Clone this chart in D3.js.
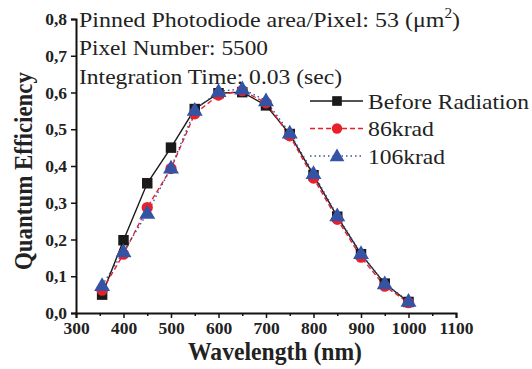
<!DOCTYPE html>
<html>
<head>
<meta charset="utf-8">
<script src="https://cdn.jsdelivr.net/npm/d3@7"></script>
<style>
  body { margin: 0; background: #fff; }
  svg text { font-family: "Liberation Serif", "Times New Roman", Tinos; }
</style>
</head>
<body>
<div id="chart"></div>
<script>
const wavelengths = [355, 400, 450, 500, 550, 600, 650, 700, 750, 800, 850, 900, 950, 1000]
const beforeRadiation = [0.05, 0.198, 0.353, 0.45, 0.555, 0.598, 0.601, 0.565, 0.487, 0.375, 0.262, 0.16, 0.08, 0.03]
const krad86 = [0.062, 0.16, 0.287, 0.393, 0.542, 0.593, 0.605, 0.572, 0.482, 0.367, 0.255, 0.152, 0.073, 0.028]
const krad106 = [0.075, 0.167, 0.272, 0.395, 0.552, 0.603, 0.61, 0.578, 0.49, 0.38, 0.265, 0.162, 0.08, 0.032]
const xTicks = [300, 400, 500, 600, 700, 800, 900, 1000, 1100]
const yTicks = [0, 0.1, 0.2, 0.3, 0.4, 0.5, 0.6, 0.7, 0.8]
const infoLines = ['Pinned Photodiode area/Pixel: 53 (\u03BCm', 'Pixel Number: 5500', 'Integration Time: 0.03 (sec)']
const infoWidths = [381, 189, 263]

const series = [
  { name: 'Before Radiation', values: beforeRadiation, color: '#1a1a1a', dash: null, shape: d3.symbolSquare, size: 110, legendWidth: 161 },
  { name: '86krad', values: krad86, color: '#e8202a', dash: '5,3', shape: d3.symbolCircle, size: 100, legendWidth: 66 },
  { name: '106krad', values: krad106, color: '#3553a5', dash: '1.5,3', shape: d3.symbolTriangle, size: 110, legendWidth: 77 },
]

const width = 532, height = 369
const marginLeft = 76, marginTop = 19
const plotWidth = 380, plotHeight = 294
const textColor = '#222'
const serif = '"Liberation Serif", "Times New Roman", Tinos'

const svg = d3.select('#chart').append('svg')
  .attr('width', width)
  .attr('height', height)

const x = d3.scaleLinear().domain([300, 1100]).range([marginLeft, marginLeft + plotWidth])
const y = d3.scaleLinear().domain([0, 0.8]).range([marginTop + plotHeight, marginTop])

// axes
const xAxis = svg.append('g')
  .attr('transform', `translate(0,${marginTop + plotHeight})`)
  .call(d3.axisBottom(x).tickValues(xTicks).tickSize(5).tickPadding(4).tickFormat(d3.format('d')))
xAxis.append('g')
  .call(d3.axisBottom(x).tickValues(d3.range(350, 1100, 100)).tickSize(3).tickFormat(''))
  .select('.domain').remove()

const yAxis = svg.append('g')
  .attr('transform', `translate(${marginLeft},0)`)
  .call(d3.axisLeft(y).tickValues(yTicks).tickSize(5).tickPadding(4).tickFormat(d => d3.format('.1f')(d).replace('.', ',')))

svg.selectAll('g').attr('font-family', serif)
svg.selectAll('.domain').attr('stroke', '#111').attr('stroke-width', 2)
svg.selectAll('.tick line').attr('stroke', '#111').attr('stroke-width', 1.5)
svg.selectAll('.tick text')
  .attr('fill', textColor)
  .style('font-family', serif)
  .style('font-weight', 'bold')
  .style('font-size', '17.5px')

// axis titles
svg.append('text')
  .attr('x', 188).attr('y', 360)
  .attr('textLength', 174).attr('lengthAdjust', 'spacingAndGlyphs')
  .style('font-family', serif)
  .style('font-weight', 'bold').style('font-size', '25px')
  .attr('fill', textColor)
  .text('Wavelength (nm)')

svg.append('text')
  .attr('transform', `translate(32,270) rotate(-90)`)
  .attr('textLength', 198).attr('lengthAdjust', 'spacingAndGlyphs')
  .style('font-family', serif)
  .style('font-weight', 'bold').style('font-size', '25px')
  .attr('fill', textColor)
  .text('Quantum Efficiency')

// info text
const info = svg.append('g').attr('fill', textColor).style('font-size', '22px').style('font-family', serif)
infoLines.forEach((t, i) => {
  const txt = info.append('text')
    .attr('x', 79).attr('y', 27 + i * 28.3)
    .attr('textLength', infoWidths[i]).attr('lengthAdjust', 'spacingAndGlyphs')
    .text(t)
  if (i === 0) {
    txt.append('tspan').attr('dy', -9).style('font-size', '14px').text('2')
    txt.append('tspan').attr('dy', 9).text(')')
  }
})

// lines and markers
const line = d3.line().x(d => x(d[0])).y(d => y(d[1]))

series.forEach(s => {
  const pts = wavelengths.map((w, i) => [w, s.values[i]])
  svg.append('path')
    .datum(pts)
    .attr('d', line)
    .attr('fill', 'none')
    .attr('stroke', s.color)
    .attr('stroke-width', 1.4)
    .attr('stroke-dasharray', s.dash)
})

series.forEach(s => {
  const pts = wavelengths.map((w, i) => [w, s.values[i]])
  svg.append('g')
    .selectAll('path')
    .data(pts)
    .join('path')
    .attr('transform', d => `translate(${x(d[0])},${y(d[1]) + (s.shape === d3.symbolTriangle ? 1 : 0)})`)
    .attr('d', d3.symbol(s.shape, s.size))
    .attr('fill', s.color)
})

// legend
const legend = svg.append('g').style('font-family', serif)
series.forEach((s, i) => {
  const ly = 101 + i * 27.5
  legend.append('line')
    .attr('x1', 310).attr('x2', 363)
    .attr('y1', ly).attr('y2', ly)
    .attr('stroke', s.color)
    .attr('stroke-width', 1.4)
    .attr('stroke-dasharray', s.dash)
  legend.append('path')
    .attr('transform', `translate(337,${ly + (s.shape === d3.symbolTriangle ? 1 : 0)})`)
    .attr('d', d3.symbol(s.shape, s.size * 0.85))
    .attr('fill', s.color)
  legend.append('text')
    .attr('x', 368).attr('y', ly + 7.5)
    .attr('textLength', s.legendWidth).attr('lengthAdjust', 'spacingAndGlyphs')
    .style('font-size', '22px')
    .attr('fill', textColor)
    .text(s.name)
})
</script>
</body>
</html>
